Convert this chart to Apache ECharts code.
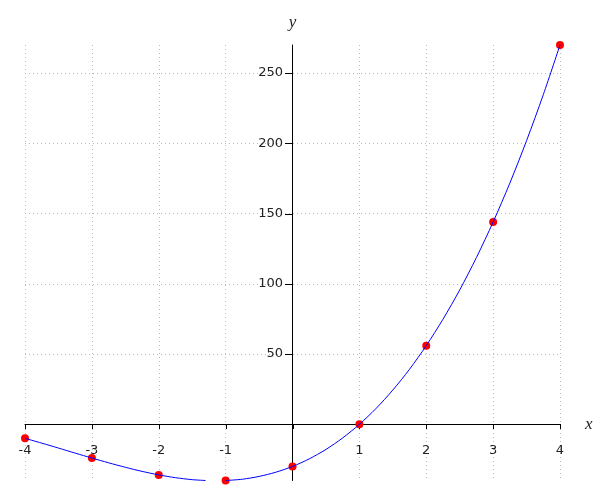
<!DOCTYPE html>
<html>
<head>
<meta charset="utf-8">
<script src="https://cdn.jsdelivr.net/npm/echarts@6/dist/echarts.min.js"></script>
<style>html,body{margin:0;padding:0;background:#fff;}#c{width:600px;height:500px;}</style>
</head>
<body>
<div id="c"></div>
<script>
// marked points
var pointX = [-4, -3, -2, -1, 0, 1, 2, 3, 4];
var pointY = [-10, -24, -36, -40, -30, 0, 56, 144, 270];
// curve (null = curve runs below the visible range there)
var curveX = [-4, -3.75, -3.5, -3.25, -3, -2.75, -2.5, -2.25, -2, -1.75, -1.5, -1.3, -1.15, -1,
              -0.75, -0.5, -0.25, 0, 0.25, 0.5, 0.75, 1, 1.25, 1.5, 1.75, 2, 2.25, 2.5, 2.75, 3, 3.25, 3.5, 3.75, 4];
var curveY = [-10, -13.4, -16.9, -20.5, -24, -27.4, -30.6, -33.5, -36, -38, -39.4, -40, null, -40,
              -39.1, -37.1, -34.1, -30, -24.6, -17.9, -9.7, 0, 11.3, 24.4, 39.2, 56, 74.8, 95.6, 118.7, 144, 171.7, 201.9, 234.6, 270];
// tick labels
var xTicks = [-4, -3, -2, -1, 0, 1, 2, 3, 4];
var yTicks = [50, 100, 150, 200, 250];

var chart = echarts.init(document.getElementById('c'));
var font = 'DejaVu Sans';
var labelColor = '#222';

function xTickItem(params, api) {
  var v = api.value(0);
  var p = api.coord([v, 0]);
  var x = Math.round(p[0]) + 0.5;
  var y = Math.round(p[1]);
  var children = [{
    type: 'line', shape: {x1: x, y1: y, x2: x, y2: y + 5},
    style: {stroke: '#000', lineWidth: 1}
  }];
  if (v !== 0) {
    children.push({
      type: 'text', x: p[0], y: y + 20,
      style: {text: String(v), fill: labelColor, font: '13px "' + font + '"', align: 'center', verticalAlign: 'top'}
    });
  }
  return {type: 'group', children: children};
}
function yTickItem(params, api) {
  var v = api.value(1);
  var p = api.coord([0, v]);
  var x = Math.round(p[0]);
  var y = Math.round(p[1]) + 0.5;
  return {type: 'group', children: [{
    type: 'line', shape: {x1: x - 8, y1: y, x2: x, y2: y},
    style: {stroke: '#000', lineWidth: 1}
  }, {
    type: 'text', x: x - 10, y: p[1],
    style: {text: String(v), fill: labelColor, font: '13px "' + font + '"', align: 'right', verticalAlign: 'middle'}
  }]};
}

chart.setOption({
  animation: false,
  grid: {left: 25, right: 40, top: 45, bottom: 19.5, containLabel: false, outerBoundsMode: 'none'},
  xAxis: {
    type: 'value', min: -4, max: 4, interval: 1,
    name: 'x', nameLocation: 'end', nameGap: 25,
    nameTextStyle: {fontFamily: 'Liberation Serif', fontStyle: 'italic', fontSize: 17, color: '#222'},
    axisLine: {onZero: true, lineStyle: {color: '#000', width: 1}},
    axisTick: {show: true, lineStyle: {opacity: 0}},
    axisLabel: {show: false},
    splitLine: {show: true, lineStyle: {type: [1, 3], color: '#bbb', width: 1}}
  },
  yAxis: {
    type: 'value', min: -40, max: 270,
    name: 'y', nameLocation: 'end', nameGap: 14,
    nameTextStyle: {fontFamily: 'Liberation Serif', fontStyle: 'italic', fontSize: 17, color: '#222'},
    axisLine: {onZero: true, lineStyle: {color: '#000', width: 1}},
    axisTick: {show: true, customValues: yTicks, lineStyle: {opacity: 0}},
    axisLabel: {show: false, customValues: yTicks},
    splitLine: {show: true, lineStyle: {type: [1, 3], color: '#bbb', width: 1}}
  },
  series: [
    {
      type: 'custom', coordinateSystem: 'cartesian2d', silent: true, clip: false, z: 1,
      renderItem: xTickItem,
      data: xTicks.map(function (v) { return [v, 0]; })
    },
    {
      type: 'custom', coordinateSystem: 'cartesian2d', silent: true, clip: false, z: 1,
      renderItem: yTickItem,
      data: yTicks.map(function (v) { return [0, v]; })
    },
    {
      type: 'line', smooth: 0.3, showSymbol: false, clip: true, connectNulls: false,
      data: curveX.map(function (x, i) { return [x, curveY[i]]; }),
      lineStyle: {color: '#0000ff', width: 1}
    },
    {
      type: 'scatter', clip: false, symbolSize: 8,
      itemStyle: {color: '#ff0000', opacity: 1, borderWidth: 0},
      data: pointX.map(function (x, i) { return [x, pointY[i]]; })
    }
  ]
});
</script>
</body>
</html>
